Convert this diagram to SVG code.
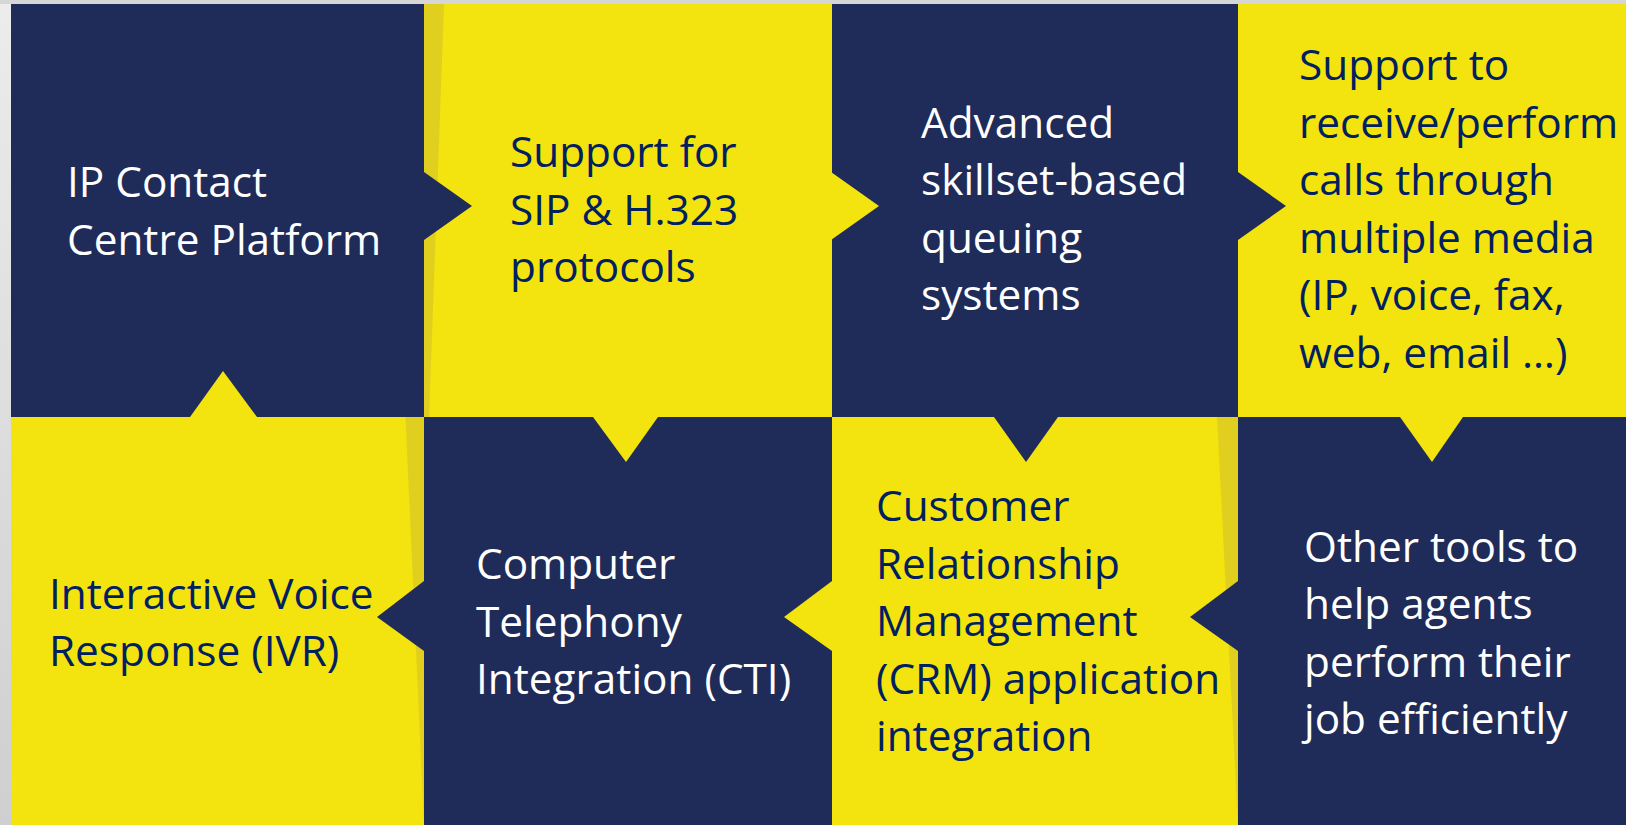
<svg xmlns="http://www.w3.org/2000/svg" width="1626" height="825" viewBox="0 0 1626 825">
<defs>
<linearGradient id="bgL" x1="0" y1="0" x2="0" y2="1">
<stop offset="0" stop-color="#ECECEC"/>
<stop offset="1" stop-color="#CFCFCF"/>
</linearGradient>
<style>
.navy{fill:#1F2B59}
.yel{fill:#F3E30E}
.shade{fill:#E0CF1E}
.t{font-family:"Open Sans","Noto Sans","Liberation Sans",sans-serif;font-size:42.3px}
.tw{fill:#FFFFFF}
.tn{fill:#002060}
</style>
</defs>
<rect x="0" y="0" width="1626" height="825" fill="url(#bgL)"/>
<rect x="0" y="0" width="1626" height="4" fill="#D6D6D6"/>

<g id="node1">
<rect class="navy" x="11" y="4" width="413" height="413"/>
<text class="t tw"><tspan x="67" y="197">IP Contact</tspan><tspan x="67" y="254.5">Centre Platform</tspan></text>
</g>
<g id="node2">
<rect class="yel" x="424" y="4" width="408" height="413"/>
<polygon class="shade" points="424,4 444,4 429,417 424,417"/>
<text class="t tn"><tspan x="510" y="167">Support for</tspan><tspan x="510" y="224.5">SIP &amp; H.323</tspan><tspan x="510" y="282">protocols</tspan></text>
</g>
<g id="node3">
<rect class="navy" x="832" y="4" width="406" height="413"/>
<text class="t tw"><tspan x="921" y="137.5">Advanced</tspan><tspan x="921" y="195">skillset-based</tspan><tspan x="921" y="252.5">queuing</tspan><tspan x="921" y="310">systems</tspan></text>
</g>
<g id="node4">
<rect class="yel" x="1238" y="4" width="388" height="413"/>
<text class="t tn"><tspan x="1299" y="80">Support to</tspan><tspan x="1299" y="137.5">receive/perform</tspan><tspan x="1299" y="195">calls through</tspan><tspan x="1299" y="252.5">multiple media</tspan><tspan x="1299" y="310">(IP, voice, fax,</tspan><tspan x="1299" y="367.5">web, email …)</tspan></text>
</g>
<g id="node5">
<rect class="yel" x="11" y="417" width="413" height="408"/>
<polygon class="shade" points="405.5,417 424,417 424,825"/>
<text class="t tn"><tspan x="49" y="608.5">Interactive Voice</tspan><tspan x="49" y="666">Response (IVR)</tspan></text>
</g>
<g id="node6">
<rect class="navy" x="424" y="417" width="408" height="408"/>
<text class="t tw"><tspan x="476" y="579">Computer</tspan><tspan x="476" y="636.5">Telephony</tspan><tspan x="476" y="694">Integration (CTI)</tspan></text>
</g>
<g id="node7">
<rect class="yel" x="832" y="417" width="406" height="408"/>
<polygon class="shade" points="1217,417 1238,417 1238,825"/>
<text class="t tn"><tspan x="876" y="521">Customer</tspan><tspan x="876" y="578.5">Relationship</tspan><tspan x="876" y="636">Management</tspan><tspan x="876" y="693.5">(CRM) application</tspan><tspan x="876" y="751">integration</tspan></text>
</g>
<g id="node8">
<rect class="navy" x="1238" y="417" width="388" height="408"/>
<text class="t tw"><tspan x="1304" y="561.5">Other tools to</tspan><tspan x="1304" y="619">help agents</tspan><tspan x="1304" y="676.5">perform their</tspan><tspan x="1304" y="734">job efficiently</tspan></text>
</g>

<g id="connectors">
<polygon class="navy" points="424,172 472,206 424,240"/>
<polygon class="yel" points="831,172 879,206 831,240"/>
<polygon class="navy" points="1238,172 1286,206 1238,240"/>
<polygon class="yel" points="1400,417 1432,462 1463,417"/>
<polygon class="navy" points="1238,581 1190,617 1238,651"/>
<polygon class="yel" points="832,581 784,617 832,651"/>
<polygon class="navy" points="424,581 377,617 424,651"/>
<polygon class="yel" points="190,417 223,371 257,417"/>
<polygon class="yel" points="593,417 626,462 658,417"/>
<polygon class="navy" points="994,417 1026,462 1058,417"/>
</g>
</svg>
